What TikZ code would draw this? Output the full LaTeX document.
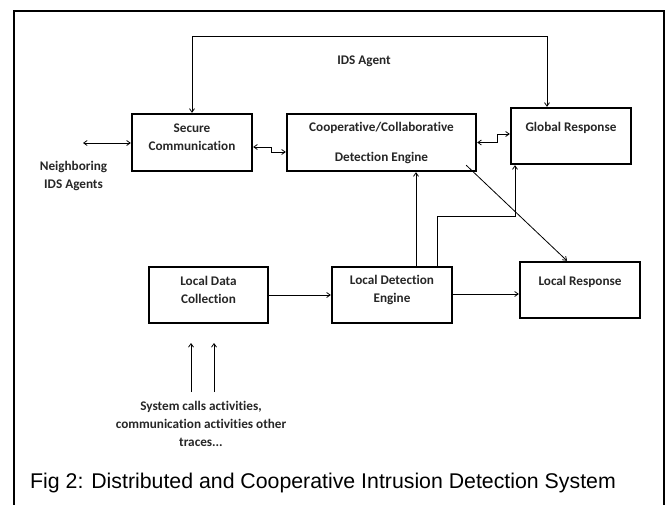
\documentclass[tikz,border=0pt]{standalone}
\usepackage{fontspec}
\setmainfont{Carlito}[Ligatures=NoCommon]
\newfontfamily\capfont{Liberation Sans}
\usetikzlibrary{arrows.meta,calc}
\begin{document}
\begin{tikzpicture}[x=1pt,y=-1pt,
  box/.style={draw,line width=2.4pt,inner sep=0pt},
  conn/.style={line width=0.8pt},
  >={Straight Barb[length=3.5pt,width=5pt]},
  lbl/.style={font=\bfseries\fontsize{13.2}{18}\selectfont,align=center,inner sep=0pt,text=black!85},
]
\useasboundingbox (0,0) rectangle (666,505);
\draw[line width=1.6pt] (14,506) -- (14,11) -- (664,11) -- (664,506);

% boxes
\node[box,minimum width=120pt,minimum height=57pt] (sc) at (192,142.5) {};
\node[box,minimum width=189pt,minimum height=57pt] (coop) at (381.5,142.5) {};
\node[box,minimum width=120pt,minimum height=56pt] (gr) at (571,136) {};
\node[box,minimum width=119pt,minimum height=56pt] (ldc) at (208.5,295) {};
\node[box,minimum width=120pt,minimum height=56pt] (lde) at (392,295) {};
\node[box,minimum width=120pt,minimum height=56pt] (lr) at (580,290) {};

% texts
\node[lbl] (sct) at (192,137) {Secure\\Communication};
\node[lbl] (coopt) at (381.5,143) {Cooperative/Collaborative\\[12pt]Detection Engine};
\node[lbl] (grt) at (571,128) {Global Response};
\node[lbl] (ldct) at (208.5,290) {Local Data\\Collection};
\node[lbl] (ldet) at (392,289.5) {Local Detection\\Engine};
\node[lbl] (lrt) at (580,282) {Local Response};
\node[lbl] (ids) at (364,61) {IDS Agent};
\node[lbl] (nb) at (73.5,176) {Neighboring\\IDS Agents};
\node[lbl] (sys) at (201,423.5) {System calls activities,\\communication activities other\\traces...};
\node[anchor=west,inner sep=0pt,font=\capfont\fontsize{21.3}{24}\selectfont] (cap) at (30,483) {Fig 2: Distributed and Cooperative Intrusion Detection System};

% coordinates for free ends
\coordinate (nbe) at (83,143);
\coordinate (in1s) at (191,392);
\coordinate (in1e) at (191,343);
\coordinate (in2s) at (214,392);
\coordinate (in2e) at (214,343);

% connectors
\draw[conn,<->] (sc.north) -- ++(0,-76) -| ([xshift=-24]gr.north);
\draw[conn,<->] (nbe) -- (nbe -| sc.west);
\draw[conn,<->] ([yshift=-4.5]sc.east) -- ++(18,0) |- ([yshift=-9.5]coop.west);
\draw[conn,<->] (coop.east) -- ++(20,0) |- ([yshift=2]gr.west);
\draw[conn,->] ([xshift=24]lde.north) -- ([xshift=24]lde.north |- coop.south);
\draw[conn,->] ([xshift=45]lde.north) -- ++(0,-49) -| ([xshift=-56]gr.south);
\draw[conn,->] ([shift={(-11,-7)}]coop.south east) -- ([xshift=-13]lr.north);
\draw[conn,->] (ldc.east) -- (lde.west);
\draw[conn,->] ([yshift=1]lde.east) -- ([yshift=1]lde.east -| lr.west);
\draw[conn,->] (in1s) -- (in1e);
\draw[conn,->] (in2s) -- (in2e);
\end{tikzpicture}
\end{document}
